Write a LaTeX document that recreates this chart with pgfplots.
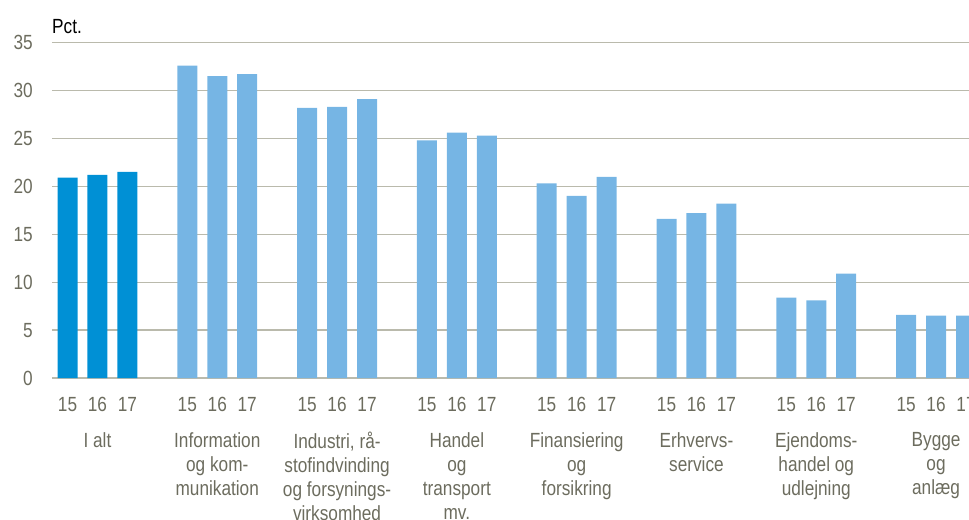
\documentclass[border=0pt]{standalone}
\usepackage{fontspec}
\setmainfont{Liberation Sans}[FakeStretch=0.84]
\usepackage{pgfplots}
\pgfplotsset{compat=1.18}
\definecolor{darkbar}{RGB}{0,144,213}
\definecolor{lightbar}{RGB}{118,181,228}
\definecolor{txt}{RGB}{108,108,94}
\definecolor{gridc}{RGB}{186,186,172}
\begin{document}
\begin{tikzpicture}[font=\fontsize{20.5bp}{24bp}\selectfont]
\useasboundingbox (-52bp,-142bp) rectangle (917bp,378bp);
\begin{axis}[
  at={(0,0)}, anchor=south west,
  x=29.95bp, y=9.583bp,
  xmin=-0.518, xmax=30.1, ymin=0, ymax=35,
  clip=false,
  axis line style={draw=none},
  major tick length=0pt,
  ytick={0,5,...,35},
  ymajorgrids,
  grid style={line width=1.3bp, color=gridc},
  xtick={0,1,2,4,5,6,8,9,10,12,13,14,16,17,18,20,21,22,24,25,26,28,29,30},
  xticklabels={15,16,17,15,16,17,15,16,17,15,16,17,15,16,17,15,16,17,15,16,17,15,16,17},
  /pgf/number format/assume math mode=true,
  tick label style={font=\fontsize{20.5bp}{24bp}\selectfont, text=txt, inner sep=0pt},
  yticklabel style={anchor=east, xshift=-19bp},
  xticklabel style={anchor=base, yshift=-33bp},
  every node/.append style={text=txt},
]
\addplot[ybar, bar width=20bp, bar shift=0pt, fill=darkbar, draw=none]
  coordinates {(0,20.9)(1,21.2)(2,21.5)};
\addplot[ybar, bar width=20bp, bar shift=0pt, fill=lightbar, draw=none]
  coordinates {(4,32.6)(5,31.5)(6,31.7)
               (8,28.2)(9,28.3)(10,29.1)
               (12,24.8)(13,25.6)(14,25.3)
               (16,20.3)(17,19.0)(18,21.0)
               (20,16.6)(21,17.2)(22,18.2)
               (24,8.4)(25,8.1)(26,10.9)
               (28,6.6)(29,6.5)(30,6.5)};
\node[anchor=base west, inner sep=0pt, yshift=9bp] at (rel axis cs:0,1) {Pct.};
\begin{scope}[every node/.style={anchor=north, inner sep=0pt, yshift=-54bp, align=center, text=txt}]
\node at (axis cs:1,0) {I alt};
\node at (axis cs:5,0) {Information\\og kom-\\munikation};
\node at (axis cs:9,0) {Industri, rå-\\stofindvinding\\og forsynings-\\virksomhed};
\node at (axis cs:13,0) {Handel\\og\\transport\\mv.};
\node at (axis cs:17,0) {Finansiering\\og\\forsikring};
\node at (axis cs:21,0) {Erhvervs-\\service};
\node at (axis cs:25,0) {Ejendoms-\\handel og\\udlejning};
\node at (axis cs:29,0) {Bygge\\og\\anlæg};
\end{scope}
\end{axis}
\end{tikzpicture}
\end{document}
